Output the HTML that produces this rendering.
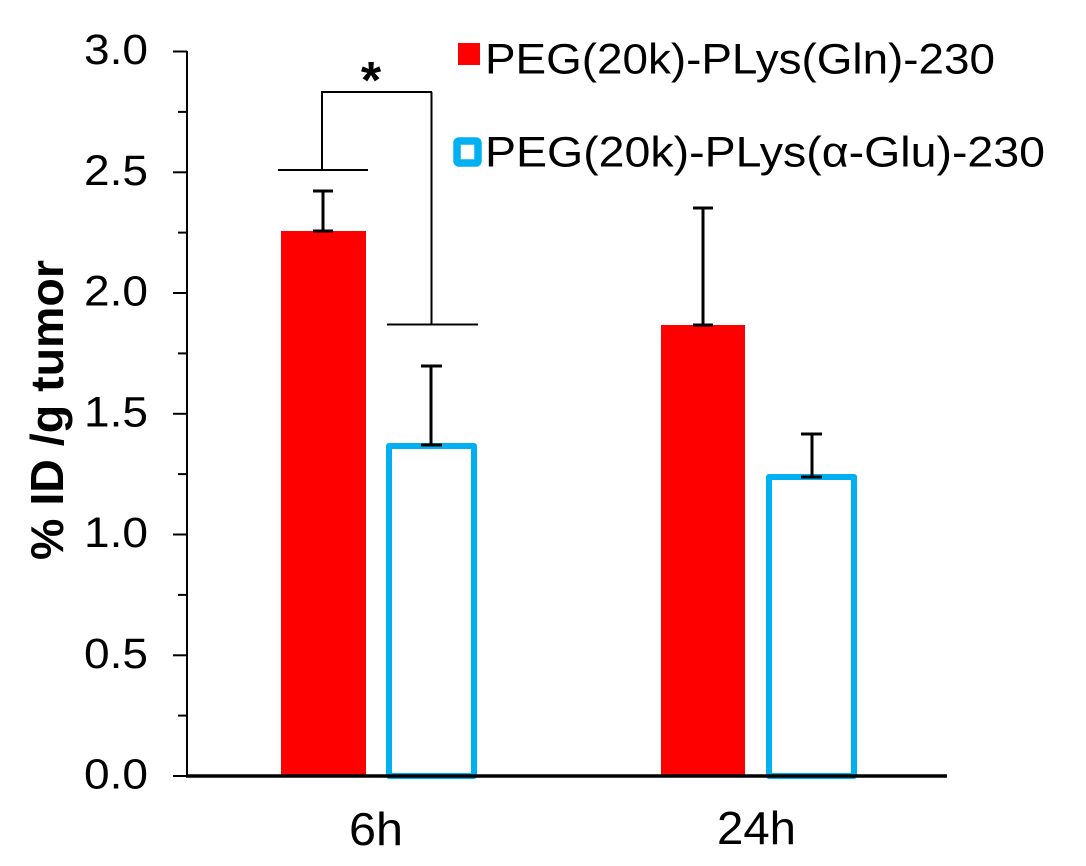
<!DOCTYPE html>
<html>
<head>
<meta charset="utf-8">
<style>
  html, body { margin: 0; padding: 0; background: #fff; }
  svg { display: block; }
  text { font-family: "Liberation Sans", Arial, sans-serif; fill: #000; }
</style>
</head>
<body>
<svg width="1086" height="866" viewBox="0 0 1086 866" xmlns="http://www.w3.org/2000/svg">
  <rect x="0" y="0" width="1086" height="866" fill="#fff"/>

  <!-- Bars -->
  <rect x="281" y="231" width="85" height="545" fill="#FF0000"/>
  <rect x="661" y="325" width="84" height="451" fill="#FF0000"/>
  <rect x="389" y="446" width="85" height="330" fill="none" stroke="#00B0F0" stroke-width="6" stroke-linejoin="round"/>
  <rect x="769" y="477" width="85" height="299" fill="none" stroke="#00B0F0" stroke-width="6" stroke-linejoin="round"/>

  <!-- Error bars -->
  <g stroke="#000" stroke-width="3" fill="none">
    <line x1="323" y1="191" x2="323" y2="231"/>
    <line x1="313" y1="191" x2="333" y2="191"/>
    <line x1="313" y1="231" x2="333" y2="231"/>

    <line x1="431" y1="366" x2="431" y2="445"/>
    <line x1="421" y1="366" x2="442" y2="366"/>
    <line x1="421" y1="445" x2="442" y2="445"/>

    <line x1="703" y1="208" x2="703" y2="325"/>
    <line x1="693" y1="208" x2="713" y2="208"/>
    <line x1="693" y1="325" x2="713" y2="325"/>

    <line x1="812" y1="434" x2="812" y2="477"/>
    <line x1="801" y1="434" x2="822" y2="434"/>
    <line x1="801" y1="477" x2="822" y2="477"/>
  </g>

  <!-- Significance bracket -->
  <g stroke="#000" stroke-width="2" fill="none">
    <line x1="278" y1="170" x2="368" y2="170"/>
    <line x1="322" y1="170" x2="322" y2="92"/>
    <line x1="321" y1="92" x2="432" y2="92"/>
    <line x1="431.5" y1="92" x2="431.5" y2="325"/>
    <line x1="387" y1="324.5" x2="478" y2="324.5"/>
  </g>
  <text x="371" y="98" font-size="52" font-weight="bold" text-anchor="middle">*</text>

  <!-- Axes -->
  <line x1="187" y1="51" x2="187" y2="777" stroke="#000" stroke-width="2"/>
  <line x1="186" y1="776" x2="947" y2="776" stroke="#000" stroke-width="3.5"/>
  <g stroke="#000" stroke-width="2">
    <line x1="173" y1="51.5" x2="187" y2="51.5"/>
    <line x1="178" y1="111.9" x2="187" y2="111.9"/>
    <line x1="173" y1="172.3" x2="187" y2="172.3"/>
    <line x1="178" y1="232.6" x2="187" y2="232.6"/>
    <line x1="173" y1="293" x2="187" y2="293"/>
    <line x1="178" y1="353.4" x2="187" y2="353.4"/>
    <line x1="173" y1="413.8" x2="187" y2="413.8"/>
    <line x1="178" y1="474.1" x2="187" y2="474.1"/>
    <line x1="173" y1="534.5" x2="187" y2="534.5"/>
    <line x1="178" y1="594.9" x2="187" y2="594.9"/>
    <line x1="173" y1="655.3" x2="187" y2="655.3"/>
    <line x1="178" y1="715.6" x2="187" y2="715.6"/>
    <line x1="173" y1="776" x2="187" y2="776"/>
  </g>

  <!-- Y tick labels -->
  <g font-size="43" text-anchor="end">
    <text x="148" y="64" textLength="64" lengthAdjust="spacingAndGlyphs">3.0</text>
    <text x="148" y="184.8" textLength="64" lengthAdjust="spacingAndGlyphs">2.5</text>
    <text x="148" y="305.5" textLength="64" lengthAdjust="spacingAndGlyphs">2.0</text>
    <text x="148" y="426.3" textLength="64" lengthAdjust="spacingAndGlyphs">1.5</text>
    <text x="148" y="547" textLength="64" lengthAdjust="spacingAndGlyphs">1.0</text>
    <text x="148" y="667.8" textLength="64" lengthAdjust="spacingAndGlyphs">0.5</text>
    <text x="148" y="788.5" textLength="64" lengthAdjust="spacingAndGlyphs">0.0</text>
  </g>

  <!-- X labels -->
  <text x="349" y="845" font-size="46" textLength="54" lengthAdjust="spacingAndGlyphs">6h</text>
  <text x="717" y="844" font-size="46" textLength="79" lengthAdjust="spacingAndGlyphs">24h</text>

  <!-- Y axis title -->
  <text transform="rotate(-90)" x="-560" y="63" font-size="46" font-weight="bold" textLength="300" lengthAdjust="spacingAndGlyphs">% ID /g tumor</text>

  <!-- Legend -->
  <rect x="458" y="43" width="22" height="22" fill="#FF0000"/>
  <text x="485" y="73.5" font-size="43" textLength="510" lengthAdjust="spacingAndGlyphs">PEG(20k)-PLys(Gln)-230</text>
  <rect x="457" y="141" width="21" height="22" fill="none" stroke="#00B0F0" stroke-width="7.5" rx="2" ry="2"/>
  <text x="485" y="166.5" font-size="43" textLength="560" lengthAdjust="spacingAndGlyphs">PEG(20k)-PLys(α-Glu)-230</text>
</svg>
</body>
</html>
